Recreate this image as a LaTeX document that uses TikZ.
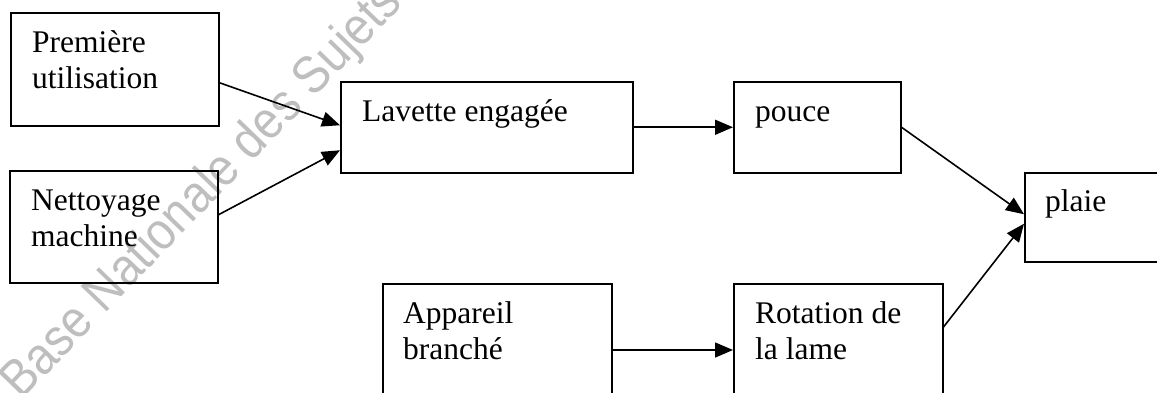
\documentclass[tikz,border=0pt]{standalone}
\usepackage{fontspec}
\setmainfont{Liberation Serif}
\newfontfamily\wmfont{Liberation Sans}
\usetikzlibrary{arrows.meta}
\definecolor{wmgray}{RGB}{190,190,190}
\tikzset{
  box/.style={draw=black, line width=1.5pt, inner sep=0pt, anchor=north west},
  txt/.style={anchor=base west, inner sep=0pt, font=\fontsize{31.5}{36}\selectfont},
  arr/.style={line width=1.6pt, -{Triangle[length=18pt,width=15pt]}}
}
\newcommand{\twolines}[2]{\parbox[t]{8cm}{\raggedright #1\\#2}}
\begin{document}
\begin{tikzpicture}[x=1pt,y=-1pt]
\useasboundingbox (0,0) rectangle (1157,392);
\clip (0,0) rectangle (1157,392);
\fill[white] (0,0) rectangle (1157,392);
\node[rotate=46, yscale=1.12, text=wmgray, font=\wmfont\fontsize{47}{52}\selectfont, inner sep=0pt] (wm) at (203,193) {Base Nationale des Sujets};
% boxes
\node[box, minimum width=208pt, minimum height=113pt] (b1) at (10,12) {};
\node[box, minimum width=208pt, minimum height=112pt] (b2) at (9,170) {};
\node[box, minimum width=292pt, minimum height=91pt] (b3) at (340,81) {};
\node[box, minimum width=167pt, minimum height=91pt] (b4) at (733,81) {};
\node[box, minimum width=160pt, minimum height=89pt] (b5) at (1024,172) {};
\node[box, minimum width=229pt, minimum height=130pt] (b6) at (382,283) {};
\node[box, minimum width=209pt, minimum height=130pt] (b7) at (733,283) {};
% texts
\node[txt] (t1) at ([shift={(22pt,-40pt)}]b1.north west) {\twolines{Première}{utilisation}};
\node[txt] (t2) at ([shift={(22pt,-40pt)}]b2.north west) {\twolines{Nettoyage}{machine}};
\node[txt] (t3) at ([shift={(22pt,-40pt)}]b3.north west) {Lavette engagée};
\node[txt] (t4) at ([shift={(22pt,-40pt)}]b4.north west) {pouce};
\node[txt] (t5) at ([shift={(21pt,-39pt)}]b5.north west) {plaie};
\node[txt] (t6) at ([shift={(21pt,-40pt)}]b6.north west) {\twolines{Appareil}{branché}};
\node[txt] (t7) at ([shift={(22pt,-40pt)}]b7.north west) {\twolines{Rotation de}{la lame}};
% connectors
\draw[arr] ([yshift=-13.5pt]b1.east) -- ([yshift=2pt]b3.west);
\draw[arr] ([yshift=12pt]b2.east) -- ([yshift=-23pt]b3.west);
\draw[arr] (b3.east) -- (b4.west);
\draw[arr] (b4.east) -- ([yshift=3pt]b5.west);
\draw[arr] ([yshift=-44pt]b7.north east) -- ([yshift=-6.5pt]b5.west);
\draw[arr] ([yshift=-67pt]b6.north east) -- ([yshift=-67pt]b7.north west);
\end{tikzpicture}
\end{document}
